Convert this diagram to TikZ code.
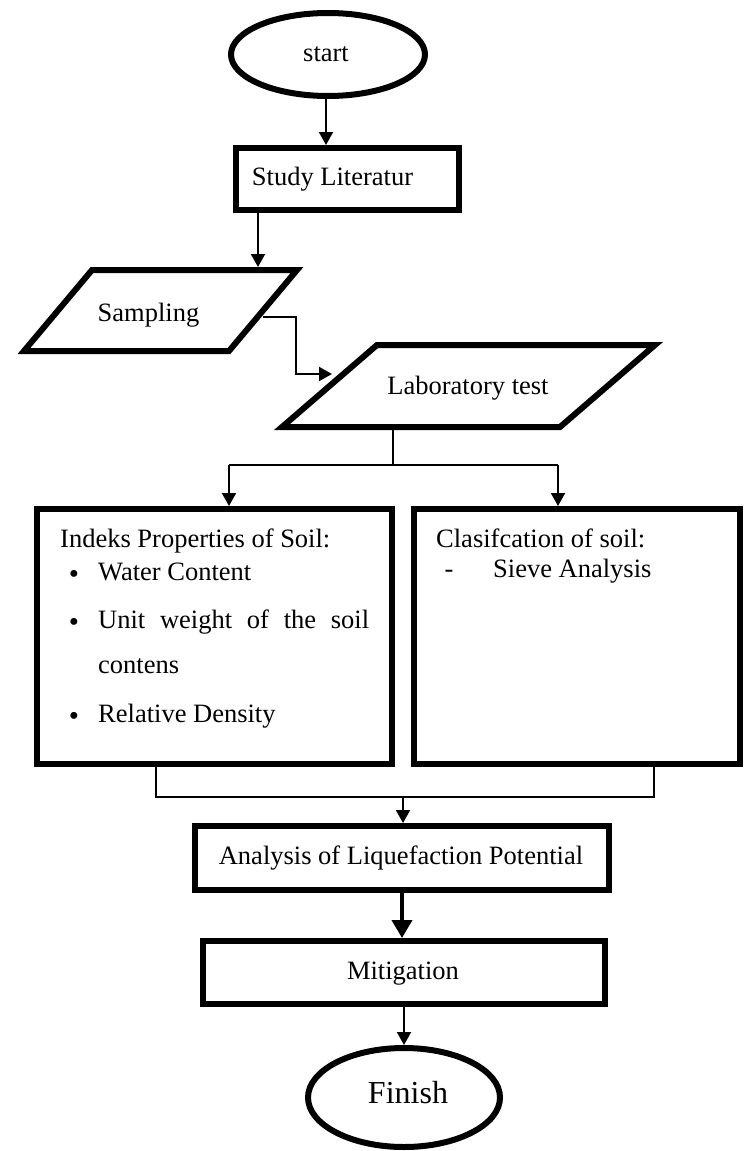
\documentclass[tikz,border=0pt]{standalone}
\usepackage{fontspec}
\setmainfont{Liberation Serif}
\usetikzlibrary{shapes.geometric,arrows.meta,calc}
\begin{document}
\begin{tikzpicture}[x=1pt,y=-1pt,
  bord/.style={draw, line width=6pt, inner sep=0pt},
  thickline/.style={line width=6pt},
  area/.style={inner sep=0pt, outer sep=0pt},
  conn/.style={line width=2pt},
  arr/.style={conn, -{Triangle[length=13pt,width=14pt]}},
  thickarr/.style={line width=4pt, -{Triangle[length=18pt,width=20pt]}},
  txt/.style={inner sep=0pt, anchor=base, font=\fontsize{26.5}{32}\selectfont},
  ltxt/.style={txt, anchor=base west},
  bul/.style={txt, font=\fontsize{29}{29}\selectfont},
]
\useasboundingbox (0,0) rectangle (747,1151);
% shapes
\node[bord, ellipse, minimum width=194pt, minimum height=83pt] (start) at (328,54.5) {};
\node[bord, rectangle, minimum width=223pt, minimum height=62pt] (study) at (347.5,179) {};
\node[area, minimum width=284pt, minimum height=87pt] (sampling) at (160,310.5) {};
\draw[thickline] (24,351) -- (92,270) -- (297,270) -- (229,351) -- cycle;
\node[area, minimum width=385pt, minimum height=88pt] (lab) at (467.5,386) {};
\draw[thickline] (282,427) -- (377,345) -- (655,345) -- (560,427) -- cycle;
\node[bord, rectangle, minimum width=355pt, minimum height=255pt] (left) at (214.5,636.5) {};
\node[bord, rectangle, minimum width=326pt, minimum height=255pt] (right) at (577,636.5) {};
\node[bord, rectangle, minimum width=414pt, minimum height=64pt] (analysis) at (402,858) {};
\node[bord, rectangle, minimum width=402pt, minimum height=63pt] (mitigation) at (404,972.5) {};
\node[bord, ellipse, minimum width=192pt, minimum height=99pt] (finish) at (404,1097.5) {};
% texts
\node[txt] (tstart) at (326,61) {start};
\node[txt] (tstudy) at (332.5,185) {Study Literatur};
\node[txt] (tsampling) at (148.5,321) {Sampling};
\node[txt] (tlab) at (468,394) {Laboratory test};
\node[ltxt] (th1) at (60,547) {Indeks Properties of Soil:};
\node[bul] (b1) at (74,583) {•};
\node[ltxt] (l1) at (98,580) {Water Content};
\node[bul] (b2) at (74,631) {•};
\node[ltxt] (l2) at (98,628) {\hbox to 271pt{Unit\hfill weight\hfill of\hfill the\hfill soil}};
\node[ltxt] (l3) at (98,673) {contens};
\node[bul] (b3) at (74,725) {•};
\node[ltxt] (l4) at (98,722) {Relative Density};
\node[ltxt] (th2) at (436,547) {Clasifcation of soil:};
\node[txt] (dash) at (449,577) {-};
\node[ltxt] (r1) at (493,577) {Sieve Analysis};
\node[txt] (tanalysis) at (401,864) {Analysis of Liquefaction Potential};
\node[txt] (tmitigation) at (403,979) {Mitigation};
\node[txt, font=\fontsize{32}{38}\selectfont] (tfinish) at (408,1103) {Finish};
% connectors
\draw[arr] ([xshift=-2pt]start.south) -- ([xshift=-2pt]start.south |- study.north);
\draw[arr] ([xshift=-89.5pt]study.south) -- ([xshift=-89.5pt]study.south |- sampling.north);
\coordinate (sout) at (263,317);
\coordinate (lin) at (332,374);
\draw[arr] (sout) -- ++(33,0) |- (lin);
\coordinate (split) at (393,465);
\coordinate (bl) at (229,465);
\coordinate (br) at (558,465);
\draw[conn] (lab.south -| split) -- (split);
\draw[conn] (bl) -- (br);
\draw[arr] (bl) -- (bl |- left.north);
\draw[arr] (br) -- (br |- right.north);
\coordinate (jl) at (156,797);
\coordinate (jr) at (654,797);
\coordinate (jm) at (403,797);
\draw[conn] (jl |- left.south) -- (jl) -- (jr) -- (jr |- right.south);
\draw[arr] (jm) -- (jm |- analysis.north);
\draw[thickarr] (analysis.south) -- (analysis.south |- mitigation.north);
\draw[arr] (mitigation.south) -- (finish.north);
\end{tikzpicture}
\end{document}
